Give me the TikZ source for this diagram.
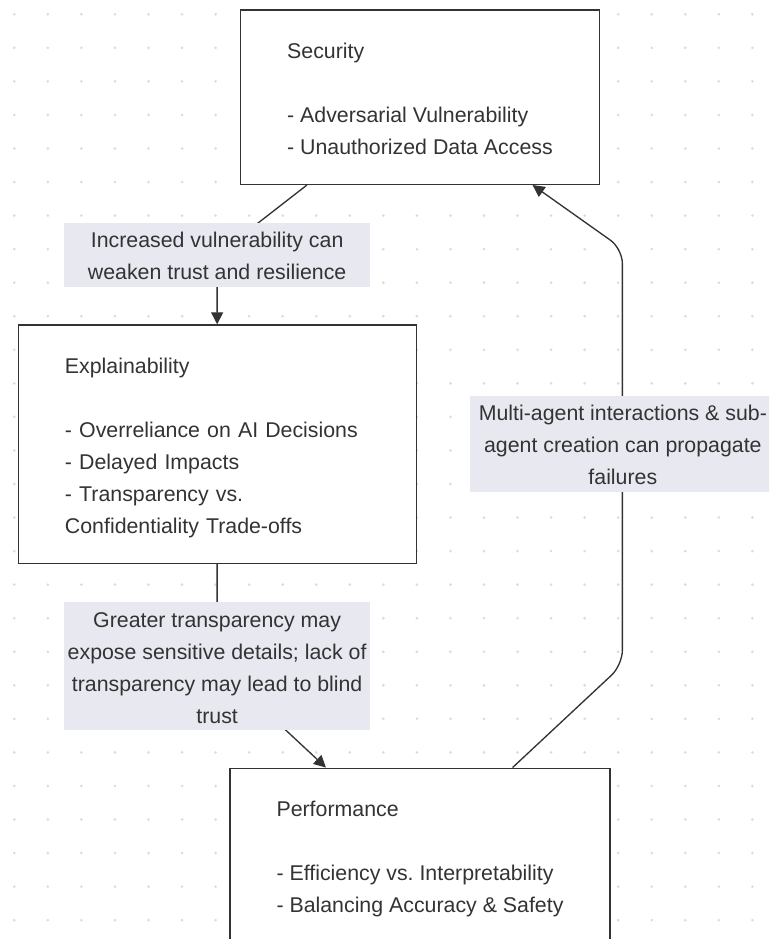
\documentclass[tikz,border=0pt]{standalone}
\usepackage{fontspec}
\setmainfont{Liberation Sans}
\usetikzlibrary{arrows.meta,calc}
\frenchspacing
\definecolor{ink}{HTML}{333333}
\definecolor{edgebg}{HTML}{E8E8F1}
\definecolor{griddot}{HTML}{DCDCDC}
\pgfdeclarelayer{dotlayer}
\pgfdeclarelayer{edgelayer}
\pgfsetlayers{dotlayer,edgelayer,main}
% first-line strut, a little taller so the block sits slightly lower
\newcommand{\firstline}{\rule{0pt}{20.6pt}}
% label struts: same total height as plain struts, text moved down a touch
\newcommand{\tagtop}{\rule{0pt}{18.7pt}}
\newcommand{\tagbot}{\rule[-5.3pt]{0pt}{0pt}}
\tikzset{
  txt/.style={font=\fontsize{16pt}{24pt}\selectfont, text=ink},
  topic/.style={txt, draw=ink, line width=1.1pt, fill=white, inner sep=0pt, align=left},
  tag/.style={txt, fill=edgebg, inner sep=0pt, align=center, minimum width=229.3pt},
  conn/.style={draw=ink, line width=1pt, -{Triangle[length=9pt,width=9pt]}},
}
\begin{document}
\begin{tikzpicture}[x=0.75pt,y=-0.75pt]
\useasboundingbox (0,0) rectangle (769,939);
\clip (0,0) rectangle (769,939);

% dotted canvas
\begin{pgfonlayer}{dotlayer}
  \fill[white] (0,0) rectangle (769,939);
  \foreach \i in {0,...,22}
    \foreach \j in {0,...,27}
      \fill[griddot] (14.3+33.55*\i, 14.3+33.55*\j) circle (1.1pt);
\end{pgfonlayer}

% topic boxes
\node[topic, minimum width=268.95pt, minimum height=130.7pt] (sec) at (420,97.15)
  {\firstline Security\\\strut\\\strut - Adversarial Vulnerability\\\strut - Unauthorized Data Access};
\node[topic, text width=228.5pt, minimum width=298.5pt, minimum height=178.7pt] (expl) at (217.3,444.15)
  {\firstline Explainability\\\strut\\\strut - Overreliance on AI Decisions\\\strut - Delayed Impacts\\\strut - Transparency vs.\\\strut Confidentiality Trade-offs};
\node[topic, minimum width=285pt, minimum height=131.55pt] (perf) at (420,856)
  {\firstline Performance\\\strut\\\strut - Efficiency vs. Interpretability\\\strut - Balancing Accuracy \& Safety};

% edge labels
\node[tag, minimum height=48pt] (l1) at (217.15,254.8)
  {\tagtop Increased vulnerability can\\\tagbot weaken trust and resilience};
\node[tag, minimum height=96pt] (l2) at (217.15,666.15)
  {\tagtop Greater transparency may\\\strut expose sensitive details; lack of\\\strut transparency may lead to blind\\\tagbot trust};
\node[tag, minimum height=72pt] (l3) at (622.85,443.85)
  {\tagtop Multi-agent interactions \& sub-\\\strut agent creation can propagate\\\tagbot failures};

% connectors
\begin{pgfonlayer}{edgelayer}
  \draw[conn] ($(sec.south west)+(67,0)$) -- (l1.center) -- (l1.center |- expl.north);
  \draw[conn] (l2.center |- expl.south) -- (l2.center) -- ($(perf.north west)+(96.7,0)$);
  \draw[conn, rounded corners=11pt] ($(perf.north west)+(283.3,0)$)
    -- ($(l3.center)+(-0.5,221.2)$) -- ($(l3.center)+(-0.5,-195.2)$)
    -- ($(sec.south west)+(292.6,0)$);
\end{pgfonlayer}
\end{tikzpicture}
\end{document}
